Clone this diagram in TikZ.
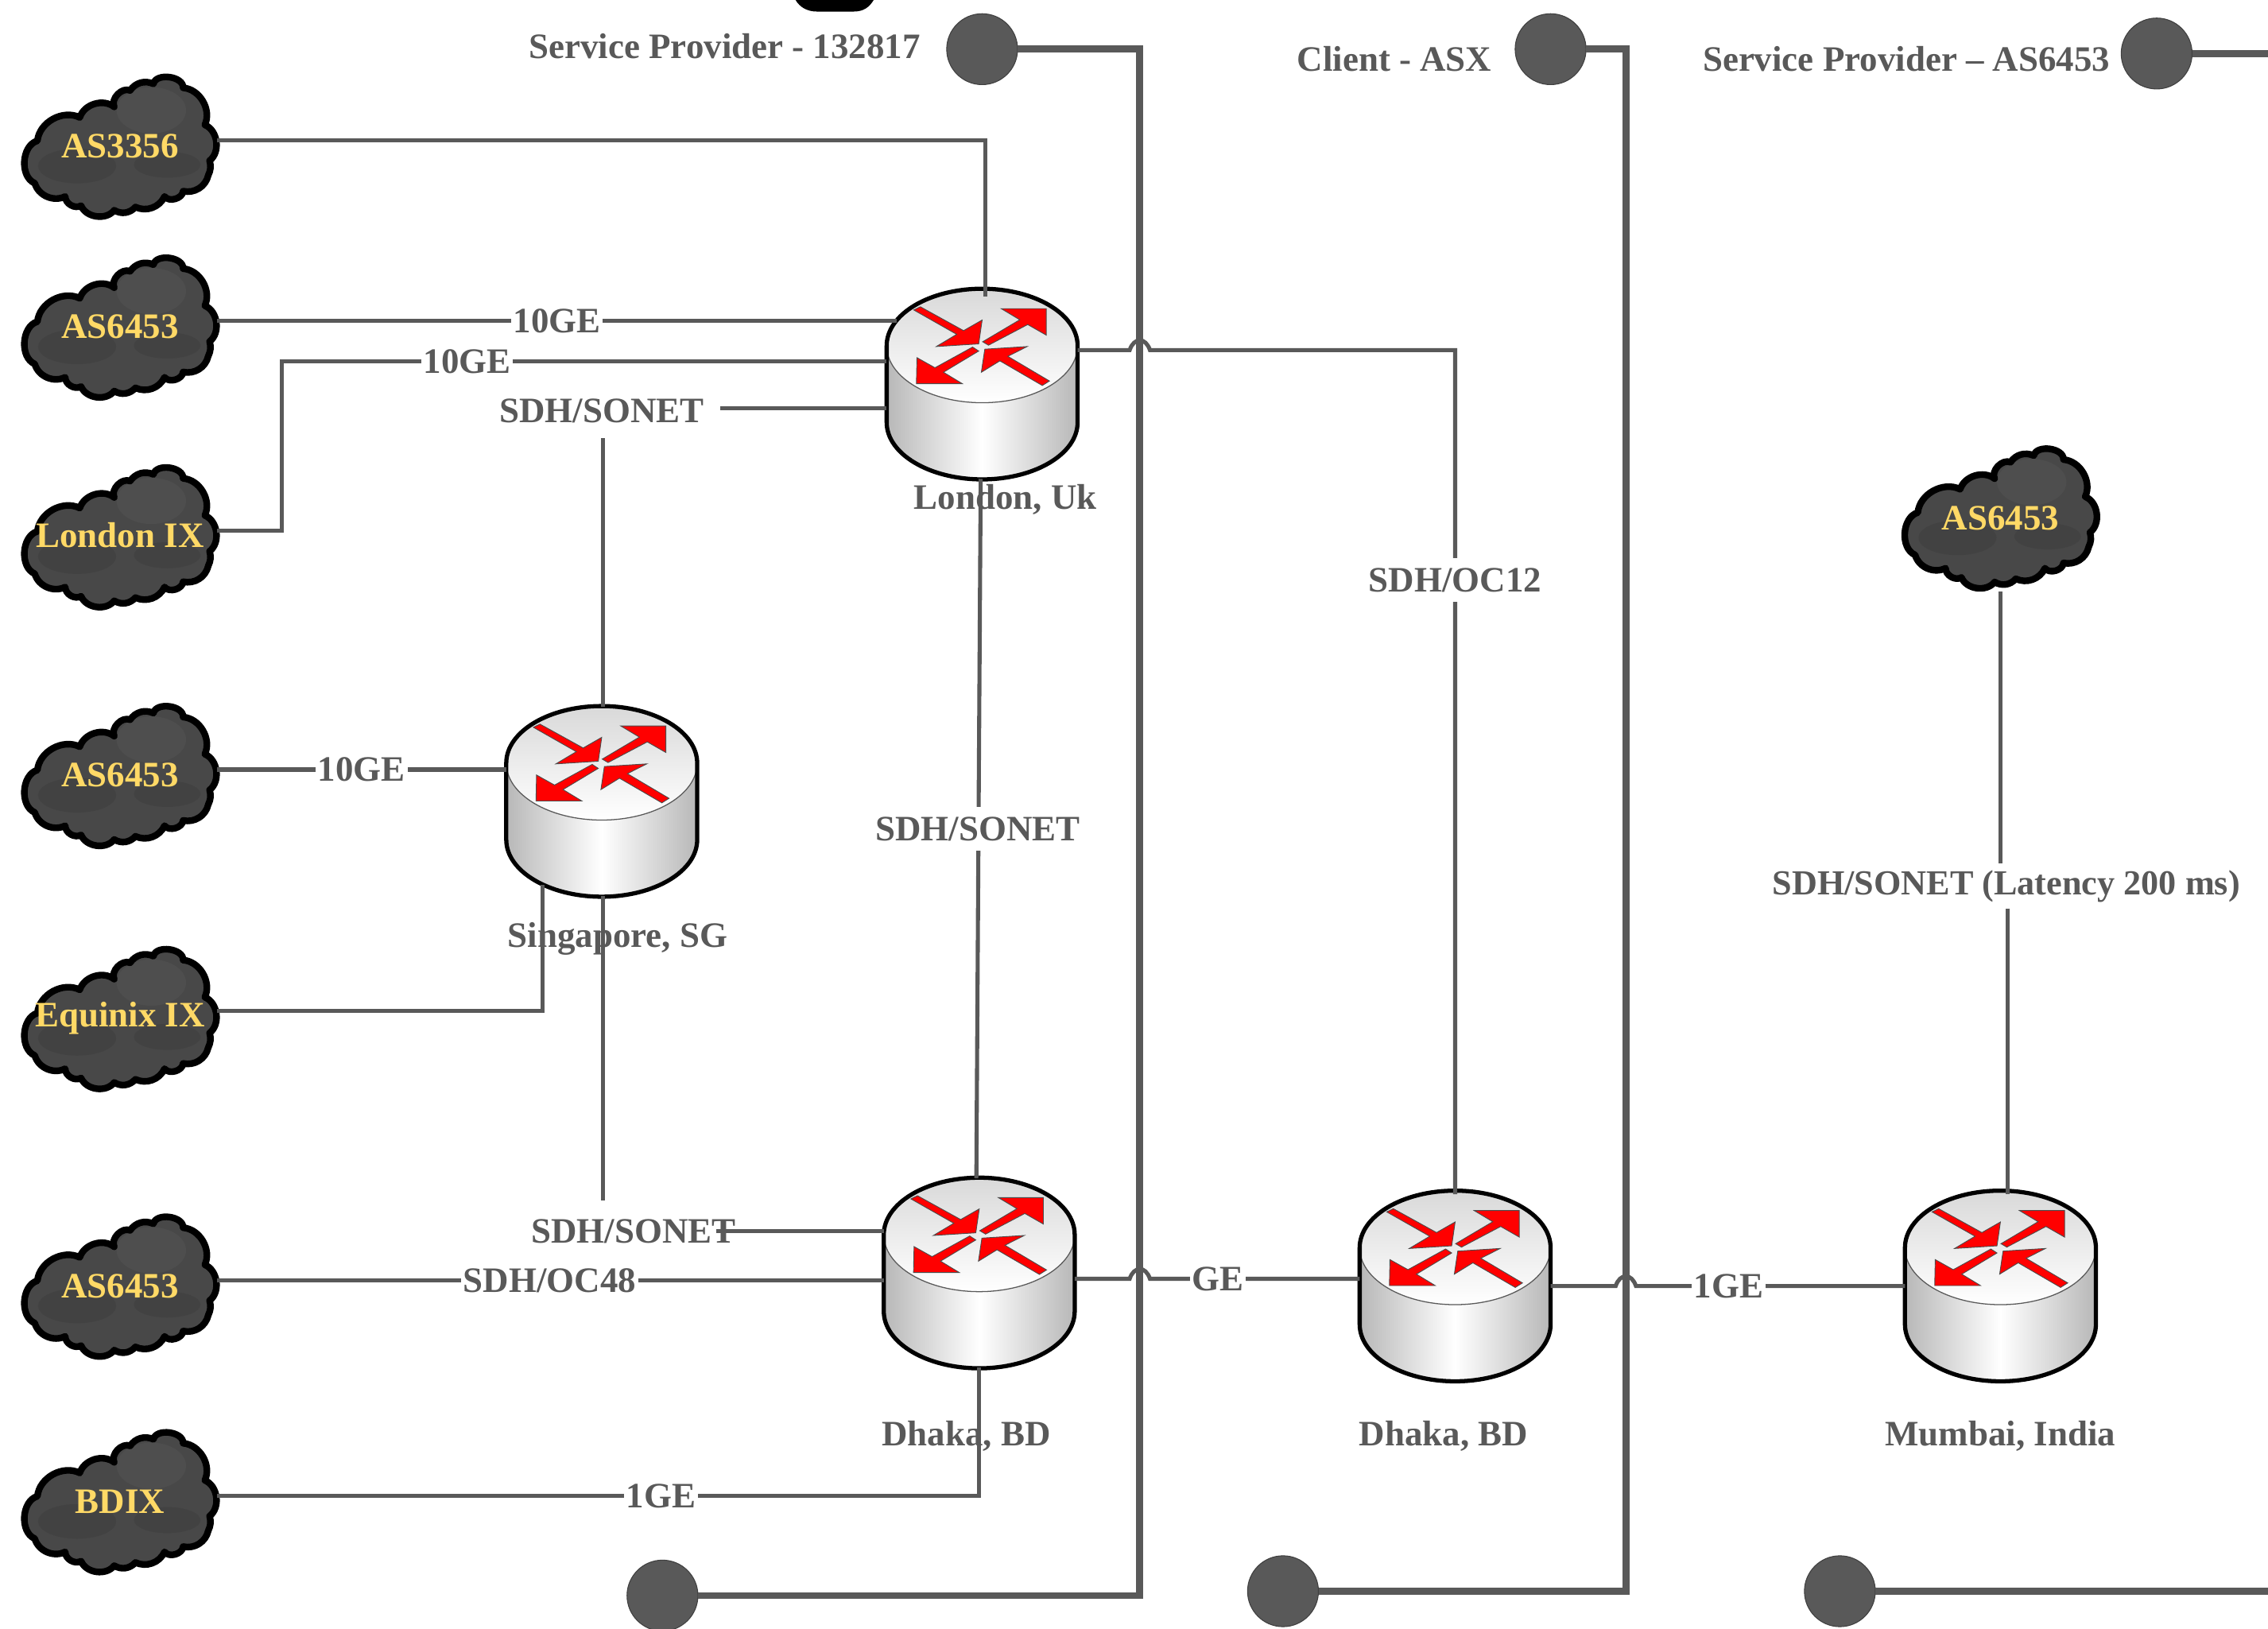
\documentclass[tikz,border=0pt]{standalone}
\usepackage{fontspec}
\setmainfont{Liberation Serif}
\definecolor{linegray}{HTML}{595959}
\definecolor{cloudtext}{HTML}{FFD966}
\definecolor{cloudbase}{HTML}{484848}
\definecolor{cloudlow}{HTML}{424242}
\definecolor{cloudhigh}{HTML}{4E4E4E}
\tikzset{
  wire/.style={draw=linegray,line width=2.8pt},
  bus/.style={draw=linegray,line width=4.8pt},
  tagtext/.style={font=\fontsize{24.7}{28}\selectfont\bfseries,text=linegray,inner sep=0pt},
  wirelabel/.style={tagtext,fill=white,inner xsep=1.5pt,inner ysep=2pt},
  cloudtag/.style={minimum width=134pt,minimum height=102pt,inner sep=0pt,outer sep=0pt,
    font=\fontsize{24.7}{28}\selectfont\bfseries,text=cloudtext},
  routerbox/.style={minimum width=132pt,minimum height=131pt,inner sep=0pt,outer sep=0pt},
  portdot/.style={circle,minimum size=49pt,inner sep=0pt,outer sep=0pt,fill=linegray,draw=black!75,line width=0.6pt},
  redarrow/.style={fill=red,draw=black!70,line width=0.5pt,line join=miter},
  routerpic/.pic={
    \path[left color=black!28,right color=black!28,middle color=white]
      (-66pt,-26.5) -- (-66pt,26.5) arc[start angle=180,end angle=360,x radius=66pt,y radius=39.4pt]
      -- (66pt,-26.5) -- cycle;
    \path[top color=black!15,bottom color=white,draw=black!65,line width=0.7pt]
      (0,-26.5) ellipse[x radius=66pt,y radius=39.4pt];
    \draw[black,line width=2.9pt,line join=round]
      (-66pt,26.5) arc[start angle=180,end angle=360,x radius=66pt,y radius=39.4pt]
      -- (66pt,-26.5) arc[start angle=0,end angle=180,x radius=66pt,y radius=39.4pt] -- cycle;
    \begin{scope}[x=0.1832pt,y=-0.1832pt,shift={(-468,-429.6)}]
      \path[redarrow] (210,150) -- (235,138) -- (398,228) -- (468,188) -- (455,278) -- (295,288) -- (372,242) -- cycle;
      \path[redarrow] (470,270) -- (492,283) -- (640,205) -- (710,245) -- (710,145) -- (540,145) -- (610,187) -- cycle;
      \path[redarrow] (432,290) -- (455,305) -- (322,385) -- (393,428) -- (220,428) -- (222,330) -- (290,368) -- cycle;
      \path[redarrow] (722,418) -- (695,435) -- (535,342) -- (465,385) -- (478,298) -- (638,288) -- (565,325) -- cycle;
    \end{scope}
  },
  cloudpic/.pic={
    \begin{scope}[x=0.1832pt,y=-0.1832pt,shift={(-452,-370)}]
      \def\cloudoutline{(140,350) to[bend left=55] (300,262) to[bend left=55] (430,222)
        to[bend left=70] (490,160) to[bend left=40] (578,135) to[bend left=85] (690,150)
        to[bend left=55] (772,290) to[bend left=60] (790,425) to[bend left=20] (785,480)
        to[bend left=45] (690,540) to[bend left=70] (620,560) to[bend left=45] (510,600)
        to[bend left=40] (430,612) to[bend left=60] (305,595) to[bend left=60] (245,560)
        to[bend left=50] (130,510) to[bend left=70] cycle}
      \fill[cloudbase] \cloudoutline;
      \fill[cloudlow] (290,445) ellipse[x radius=27pt,y radius=12pt];
      \fill[cloudlow] (630,440) ellipse[x radius=23pt,y radius=9pt];
      \fill[cloudhigh] (570,235) ellipse[x radius=24pt,y radius=16pt];
      \draw[black,line width=4.6pt,line join=round] \cloudoutline;
    \end{scope}
  }
}
\begin{document}
\begin{tikzpicture}[x=1pt,y=-1pt]
\useasboundingbox[fill=white] (0,0) rectangle (1568,1126.1);
% cropped black shape at the top edge
\fill[black] (550,0) .. controls (553,5) and (558,8) .. (565,8) -- (590,8) .. controls (597,8) and (601,5) .. (604,0) -- cycle;

% clouds
\foreach \cx/\cy in {83/101,83/226,83/371,83/536,83/704,83/889,83/1038,1383/358}
  \pic at (\cx,\cy) {cloudpic};
\node[cloudtag] (c3356) at (83,101) {AS3356};
\node[cloudtag] (c6453a) at (83,226) {AS6453};
\node[cloudtag] (clon) at (83,370) {London IX};
\node[cloudtag] (c6453b) at (83,536) {AS6453};
\node[cloudtag] (cequ) at (83,704) {Equinix IX};
\node[cloudtag] (c6453c) at (83,889) {AS6453};
\node[cloudtag] (cbdix) at (83,1038) {BDIX};
\node[cloudtag] (c6453d) at (1383,358) {AS6453};

% routers
\foreach \rx/\ry in {679/265.5,416/554,677/880,1006/889,1383/889}
  \pic at (\rx,\ry) {routerpic};
\node[routerbox] (rlon) at (679,265.5) {};
\node[routerbox] (rsg) at (416,554) {};
\node[routerbox] (rdh) at (677,880) {};
\node[routerbox] (rdx) at (1006,889) {};
\node[routerbox] (rmb) at (1383,889) {};

% port dots
\node[portdot] (pa) at (679,34) {};
\node[portdot] (pb) at (458,1103) {};
\node[portdot] (pc) at (1072,34) {};
\node[portdot] (pd) at (887,1100) {};
\node[portdot] (pe) at (1491,37) {};
\node[portdot] (pf) at (1272,1100) {};
\coordinate (edgee) at (1568,37);
\coordinate (edgef) at (1568,1100);
\coordinate (busa) at (788,34);
\coordinate (busb) at (1124,34);

% free line ends
\coordinate (gapa) at (498,282);
\coordinate (gapb) at (417,303);
\coordinate (gapc) at (417,830);
\coordinate (gapd) at (495,851);
\coordinate (gape) at (1383,597);
\coordinate (gapf) at (1388,628);
% line hops
\coordinate (hopa) at (788,242);
\coordinate (hopb) at (788,884);
\coordinate (hopc) at (1124,889);

% buses
\draw[bus] (pa) -- (busa) -- (busa |- pb) -- (pb);
\draw[bus] (pc) -- (busb) -- (busb |- pd) -- (pd);
\draw[bus] (pe) -- (edgee);
\draw[bus] (pf) -- (edgef);

% wires
\draw[wire] ([yshift=4pt]c3356.east) -| ([xshift=2pt,yshift=-5pt]rlon.north);
\draw[wire] ([yshift=4pt]c6453a.east) -- ([xshift=7pt,yshift=43.5pt]rlon.west);
\draw[wire] ([yshift=3pt]clon.east) -- ++(45,0) |- ([yshift=15.5pt]rlon.west);
\draw[wire] ([yshift=-16.5pt]rlon.west) -- (gapa);
\draw[wire] (gapb) -- ([xshift=1pt]rsg.north);
\draw[wire] ([yshift=4pt]c6453b.east) -- ([yshift=22pt]rsg.west);
\draw[wire] ([yshift=5pt]cequ.east) -| ([xshift=-41pt,yshift=8pt]rsg.south);
\draw[wire] ([xshift=1pt]rsg.south) -- (gapc);
\draw[wire] ([yshift=29pt]rdh.west) -- (gapd);
\draw[wire] ([yshift=4pt]c6453c.east) -- ([yshift=-5pt]rdh.west);
\draw[wire] ([yshift=4pt]cbdix.east) -| (rdh.south);
\draw[wire] ([xshift=-1pt]rlon.south) -- ([xshift=-2pt]rdh.north);
\draw[wire] ([yshift=23.5pt]rlon.east) -- ([xshift=-7pt]hopa) .. controls ([xshift=-4pt,yshift=9pt]hopa) and ([xshift=4pt,yshift=9pt]hopa) .. ([xshift=7pt]hopa) -| ([yshift=-2pt]rdx.north);
\draw[wire] ([yshift=-4pt]rdh.east) -- ([xshift=-7pt]hopb) .. controls ([xshift=-4pt,yshift=9pt]hopb) and ([xshift=4pt,yshift=9pt]hopb) .. ([xshift=7pt]hopb) -- ([yshift=5pt]rdx.west);
\draw[wire] (rdx.east) -- ([xshift=-7pt]hopc) .. controls ([xshift=-4pt,yshift=9pt]hopc) and ([xshift=4pt,yshift=9pt]hopc) .. ([xshift=7pt]hopc) -- (rmb.west);
\draw[wire] (c6453d.south) -- (gape);
\draw[wire] (gapf) -- ([xshift=5pt,yshift=-2pt]rmb.north);

% connector labels
\node[wirelabel] (la) at (385,222) {10GE};
\node[wirelabel] (lb) at (323,250) {10GE};
\node[wirelabel] (lc) at (250,532) {10GE};
\node[wirelabel] (ld) at (380,885) {SDH/OC48};
\node[wirelabel] (le) at (457,1034) {1GE};
\node[wirelabel] (lf) at (842,884) {GE};
\node[wirelabel] (lg) at (1195,889) {1GE};
\node[wirelabel,inner ysep=7pt] (lh) at (676,573) {SDH/SONET};
\node[wirelabel,inner ysep=7pt] (li) at (1006,401) {SDH/OC12};
\node[tagtext] (lj) at (416,284) {SDH/SONET};
\node[tagtext] (lk) at (438,851) {SDH/SONET};
\node[tagtext,font=\fontsize{24.3}{28}\selectfont\bfseries] (ll) at (1387,612.5) {SDH/SONET (Latency 200 ms)};

% site and endpoint labels
\node[tagtext] (tlon) at (695,345.5) {London, Uk};
\node[tagtext] (tsg) at (427,649) {Singapore, SG};
\node[tagtext] (tdh) at (668,992.5) {Dhaka, BD};
\node[tagtext] (tdx) at (998,992.5) {Dhaka, BD};
\node[tagtext] (tmb) at (1383,992.5) {Mumbai, India};
\node[tagtext] (tpa) at (501,32) {Service Provider - 132817};
\node[tagtext] (tpc) at (964,41) {Client - ASX};
\node[tagtext] (tpe) at (1318,41) {Service Provider – AS6453};
\end{tikzpicture}
\end{document}
